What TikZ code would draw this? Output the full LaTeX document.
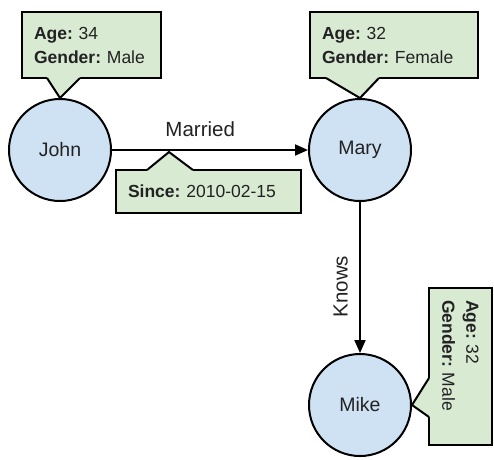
\documentclass[tikz,border=0pt]{standalone}
\usepackage{fontspec}
\setmainfont{Liberation Sans}
\usetikzlibrary{arrows.meta,calc}
\frenchspacing

\definecolor{personblue}{HTML}{CFE2F3}
\definecolor{propgreen}{HTML}{D9EAD3}
\definecolor{inkgray}{HTML}{222222}

\tikzset{
	person/.style={circle, draw=black, fill=personblue, line width=2pt, minimum size=102pt, inner sep=0pt, text=inkgray, font=\fontsize{19.5}{23}\selectfont},
	propbox/.style={rectangle, draw=black, fill=propgreen, line width=2pt, inner xsep=12pt, inner ysep=0pt, align=left, text=inkgray, font=\fontsize{17.5}{24}\selectfont\frenchspacing},
	ptrfill/.style={fill=propgreen},
	ptrline/.style={draw=black, line width=2pt, line join=miter},
	relation/.style={draw=black, line width=2pt, -{Triangle[length=13pt,width=11pt]}},
	rellabel/.style={inner sep=0pt, text=inkgray, font=\fontsize{20.5}{24}\selectfont},
}

% pointer of a callout: base start, base end, tip, step into the box
\newcommand{\propptr}[4]{%
	\fill[ptrfill] ($#1+#4$) -- #1 -- #3 -- #2 -- ($#2+#4$) -- cycle;
	\draw[ptrline] #1 -- #3 -- #2;}

\begin{document}
\begin{tikzpicture}[x=1pt, y=-1pt]
	\useasboundingbox (0,0) rectangle (494,459);

	% people
	\node[person] (john) at (60,150) {John};
	\node[person] (mary) at (360,150) {Mary};
	\node[person] (mike) at (360,405) {Mike};

	% relations
	\draw[relation] (john) -- node[rellabel, pos=0.45, above=12pt] (marriedlbl) {Married} (mary);
	\draw[relation] (mary) -- (mike);
	\node[rellabel, rotate=90, anchor=south] (knowslbl) at ($(mary.south)!0.56!(mike.north)+(-12,0)$) {Knows};

	% properties
	\node[propbox, text width=115pt, minimum height=66pt] (johnprops) at (91.5,45) {\textbf{Age:} 34\\\textbf{Gender:} Male};
	\propptr{(47,78)}{(80,78)}{(john.north)}{(0,-2)}

	\node[propbox, text width=144pt, minimum height=66pt] (maryprops) at (394,45) {\textbf{Age:} 32\\\textbf{Gender:} Female};
	\propptr{(326,78)}{(379,78)}{(mary.north)}{(0,-2)}

	\node[propbox, text width=161pt, minimum height=43pt] (sinceprops) at (208.5,191.5) {\textbf{Since:} 2010-02-15};
	\propptr{(147,170)}{(193,170)}{(169,152)}{(0,2)}

	\node[propbox, rotate=-90, text width=133pt, minimum height=63pt] (mikeprops) at (460.5,366.5) {\textbf{Age:} 32\\\textbf{Gender:} Male};
	\propptr{(429,378)}{(429,417)}{(mike.east)}{(2,0)}
\end{tikzpicture}
\end{document}
